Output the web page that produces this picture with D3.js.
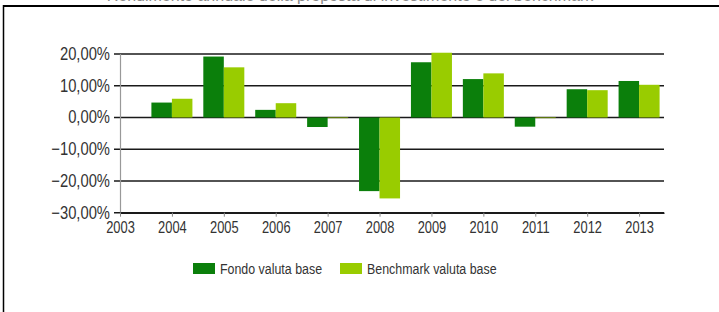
<!DOCTYPE html>
<html>
<head>
<meta charset="utf-8">
<script src="https://cdn.jsdelivr.net/npm/d3@7"></script>
<style>
  body { margin: 0; background: #fff; }
  svg { display: block; }
</style>
</head>
<body>
<div id="chart"></div>
<script>
// data (percent)
var years = [2004, 2005, 2006, 2007, 2008, 2009, 2010, 2011, 2012, 2013];
var fondo = [4.7, 19.2, 2.4, -3.0, -23.2, 17.4, 12.1, -2.9, 8.9, 11.5];
var benchmark = [5.9, 15.8, 4.5, -0.2, -25.5, 20.4, 13.9, -0.2, 8.6, 10.3];
var seriesNames = ["Fondo valuta base", "Benchmark valuta base"];
var yTicks = [20, 10, 0, -10, -20, -30];
var xTicks = [2003, 2004, 2005, 2006, 2007, 2008, 2009, 2010, 2011, 2012, 2013];

var colors = ["#0b7f0b", "#99cc00"];
var W = 719, H = 312;
var font = "Liberation Sans, Arial, sans-serif";

// squeeze text horizontally to mimic the narrow font of the original
function narrow(sel, k) {
    sel.each(function() {
        var len = this.getComputedTextLength();
        d3.select(this)
            .attr("textLength", len * k)
            .attr("lengthAdjust", "spacingAndGlyphs");
    });
}

var svg = d3.select("#chart").append("svg")
    .attr("width", W)
    .attr("height", H);

// title line, mostly cut off by the top edge
svg.append("text")
    .attr("x", 350)
    .attr("y", 1)
    .attr("text-anchor", "middle")
    .style("font-family", font)
    .style("font-size", "16px")
    .attr("fill", "#888")
    .text("Rendimento annuale della proposta di investimento e del benchmark");

// outer frame (top and left visible)
svg.append("line").attr("x1", 3).attr("x2", W).attr("y1", 6).attr("y2", 6)
    .attr("stroke", "#000").attr("stroke-width", 2);
svg.append("line").attr("x1", 3.5).attr("x2", 3.5).attr("y1", 5).attr("y2", H)
    .attr("stroke", "#000").attr("stroke-width", 1.5);

var xScale = d3.scaleLinear()
    .domain([2003, 2013.48])
    .range([120, 664]);

var yScale = d3.scaleLinear()
    .domain([-30, 20])
    .range([212.7, 54]);

var step = xScale(2004) - xScale(2003);
var barW = step * 0.395;

// gridlines
svg.append("g").selectAll("line")
    .data(yTicks)
    .enter()
    .append("line")
    .attr("x1", 114)
    .attr("x2", 664)
    .attr("y1", function(d) { return yScale(d); })
    .attr("y2", function(d) { return yScale(d); })
    .attr("stroke", "#1a1a1a")
    .attr("stroke-width", 1.6);

// left axis line
svg.append("line")
    .attr("x1", 120.5).attr("x2", 120.5)
    .attr("y1", yScale(20)).attr("y2", yScale(-30))
    .attr("stroke", "#999").attr("stroke-width", 1.2);

// y labels
svg.append("g").selectAll("text")
    .data(yTicks)
    .enter()
    .append("text")
    .attr("x", 110)
    .attr("y", function(d) { return yScale(d) + 6; })
    .attr("text-anchor", "end")
    .style("font-family", font)
    .style("font-size", "18px")
    .attr("fill", "#333")
    .text(function(d) { return d3.format(".2f")(d).replace(".", ",") + "%"; })
    .call(narrow, 0.82);

// bars
var bars = svg.append("g");
[fondo, benchmark].forEach(function(vals, s) {
    bars.selectAll("rect.s" + s)
        .data(vals)
        .enter()
        .append("rect")
        .attr("class", "s" + s)
        .attr("x", function(d, i) { return xScale(years[i]) - barW + s * barW; })
        .attr("y", function(d) { return yScale(Math.max(0, d)); })
        .attr("width", barW)
        .attr("height", function(d) { return Math.abs(yScale(d) - yScale(0)); })
        .attr("fill", colors[s]);
});

// x axis
var xAxis = d3.axisBottom(xScale)
    .tickValues(xTicks)
    .tickFormat(d3.format("d"))
    .tickSize(4)
    .tickSizeOuter(0);

var gx = svg.append("g")
    .attr("transform", "translate(0," + yScale(-30) + ")")
    .call(xAxis);
gx.select(".domain").attr("stroke", "#1a1a1a").attr("stroke-width", 1.6);
gx.selectAll(".tick line").attr("stroke", "#888");
gx.selectAll(".tick text")
    .attr("y", 9)
    .style("font-family", font)
    .style("font-size", "16.5px")
    .attr("fill", "#333")
    .call(narrow, 0.78);

// legend
var legend = svg.append("g");
var legendX = [193, 340];
seriesNames.forEach(function(name, i) {
    legend.append("rect")
        .attr("x", legendX[i])
        .attr("y", 263)
        .attr("width", 22)
        .attr("height", 11)
        .attr("fill", colors[i]);
    legend.append("text")
        .attr("x", legendX[i] + 27)
        .attr("y", 274)
        .style("font-family", font)
        .style("font-size", "15.5px")
        .attr("fill", "#333")
        .text(name)
        .call(narrow, 0.8);
});
</script>
</body>
</html>
